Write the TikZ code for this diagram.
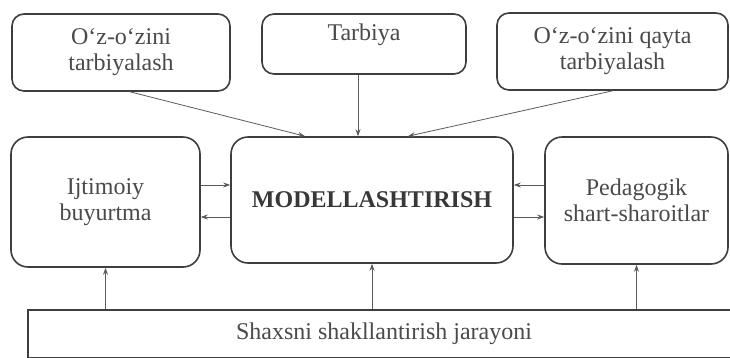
\documentclass[tikz,border=0pt]{standalone}
\usepackage{fontspec}
\setmainfont{Liberation Serif}
\usetikzlibrary{arrows.meta}
\definecolor{ink}{HTML}{3E3E3E}
\definecolor{txt}{HTML}{4A4A4A}
\begin{document}
\begin{tikzpicture}[x=1pt,y=-1pt,
    box/.style={draw=ink, line width=1.6pt, rounded corners=12pt, align=center,
        inner sep=0pt, text=txt, font=\fontsize{24}{26}\selectfont},
    bigbox/.style={box, rounded corners=17pt},
    link/.style={draw=ink!85, line width=0.8pt, -{Stealth[length=7pt,width=5pt]}}]
    \clip (0,0) rectangle (730,357);
    \fill[white] (0,0) rectangle (730,357);

    % top row
    \node[box, minimum width=218pt, minimum height=77pt] (selfedu) at (121,52.5) {O‘z-o‘zini\\tarbiyalash};
    \node[box, minimum width=204pt, minimum height=60pt, text height=16pt, text depth=24pt] (upbring) at (364,44) {Tarbiya};
    \node[box, minimum width=231pt, minimum height=77pt] (reedu) at (612.5,51.5) {O‘z-o‘zini qayta\\tarbiyalash};

    % middle row
    \node[bigbox, minimum width=189pt, minimum height=130pt] (social) at (105.5,202) {Ijtimoiy\\buyurtma};
    \node[bigbox, minimum width=282pt, minimum height=126pt, font=\fontsize{24}{26}\selectfont\bfseries, text=ink!90!black] (model) at (372,200) {MODELLASHTIRISH};
    \node[bigbox, minimum width=183pt, minimum height=127pt] (cond) at (636.5,200.5) {Pedagogik\\shart-sharoitlar};

    % bottom bar
    \node[box, rounded corners=0pt, minimum width=712pt, minimum height=48pt] (base) at (384,334) {Shaxsni shakllantirish jarayoni};

    % arrows into the model
    \draw[link] ([xshift=9pt]selfedu.south) -- ([xshift=-67pt]model.north);
    \draw[link] ([xshift=-6pt]upbring.south) -- ([xshift=-14pt]model.north);
    \draw[link] (reedu.south) -- ([xshift=36pt]model.north);

    \coordinate (lup) at ([yshift=15pt]model.west);
    \coordinate (ldn) at ([yshift=-17pt]model.west);
    \coordinate (rup) at ([yshift=15pt]model.east);
    \coordinate (rdn) at ([yshift=-17pt]model.east);
    \draw[link] (social.east |- lup) -- (lup);
    \draw[link] (ldn) -- (social.east |- ldn);
    \draw[link] (cond.west |- rup) -- (rup);
    \draw[link] (rdn) -- (cond.west |- rdn);

    \foreach \target in {social,model,cond}
        \draw[link] (\target.south |- base.north) -- (\target.south);
\end{tikzpicture}
\end{document}
